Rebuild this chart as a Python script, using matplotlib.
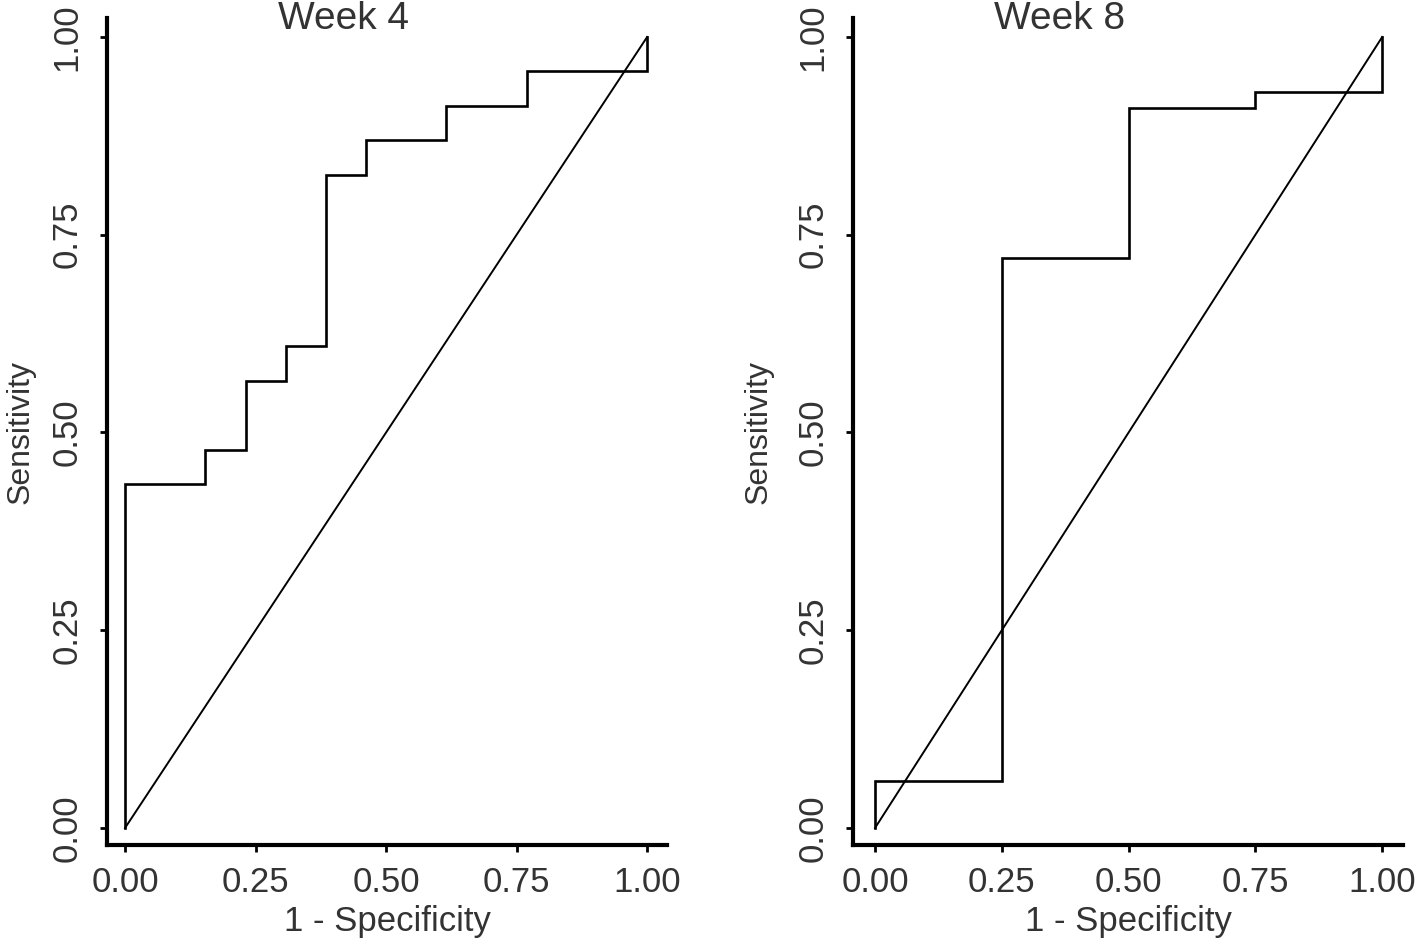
import matplotlib
matplotlib.use("Agg")
import matplotlib.pyplot as plt

plt.rcParams['font.family'] = ['Liberation Sans', 'DejaVu Sans']

# ROC step curves (1 - specificity, sensitivity)
week4_fpr = [0.0, 0.0, 0.154, 0.154, 0.231, 0.231, 0.308, 0.308, 0.385, 0.385,
             0.462, 0.462, 0.615, 0.615, 0.769, 0.769, 1.0, 1.0]
week4_tpr = [0.0, 0.435, 0.435, 0.478, 0.478, 0.565, 0.565, 0.609, 0.609, 0.826,
             0.826, 0.870, 0.870, 0.913, 0.913, 0.957, 0.957, 1.0]

week8_fpr = [0.0, 0.0, 0.25, 0.25, 0.50, 0.50, 0.75, 0.75, 1.0, 1.0]
week8_tpr = [0.0, 0.06, 0.06, 0.72, 0.72, 0.91, 0.91, 0.93, 0.93, 1.0]

ticks = [0.0, 0.25, 0.5, 0.75, 1.0]
tick_labels = ['0.00', '0.25', '0.50', '0.75', '1.00']

W, H = 1418, 944
fig = plt.figure(figsize=(W / 100, H / 100), dpi=100)
txt = '#333333'

panels = [
    # title, fpr, tpr, axes box in pixels (left, right, bottom, top), xlim, title x, ylabel x
    ('Week 4', week4_fpr, week4_tpr, (107, 667, 845, 18), (-0.0345, 1.038), 344, -0.127),
    ('Week 8', week8_fpr, week8_tpr, (853, 1403, 845, 18), (-0.0434, 1.041), 1060, -0.145),
]

for title, fpr, tpr, box, xlim, tx, ylx in panels:
    l, r, b, t = box
    ax = fig.add_axes([l / W, (H - b) / H, (r - l) / W, (b - t) / H])
    ax.plot(fpr, tpr, color='black', lw=1.9, solid_joinstyle='miter')
    ax.plot([0, 1], [0, 1], color='black', lw=1.4)
    ax.set_xlim(*xlim)
    ax.set_ylim(-0.0215, 1.024)
    for s in ['top', 'right']:
        ax.spines[s].set_visible(False)
    for s in ['left', 'bottom']:
        ax.spines[s].set_linewidth(3.0)
    ax.set_xticks(ticks)
    ax.set_xticklabels(tick_labels)
    ax.set_yticks(ticks)
    ax.set_yticklabels(tick_labels, rotation=90, va='center')
    ax.tick_params(length=5, width=2, labelsize=25, labelcolor=txt)
    ax.tick_params(axis='x', pad=10)
    ax.tick_params(axis='y', pad=12)
    ax.set_xlabel('1 - Specificity', fontsize=25, color=txt)
    ax.set_ylabel('Sensitivity', fontsize=23, color=txt)
    ax.xaxis.set_label_coords(0.5, -0.072)
    ax.yaxis.set_label_coords(ylx, 0.5)
    fig.text(tx / W, 1 - 19 / H, title, ha='center', va='center', fontsize=28, color=txt)

fig.savefig('out.png', dpi=100, facecolor='white')
